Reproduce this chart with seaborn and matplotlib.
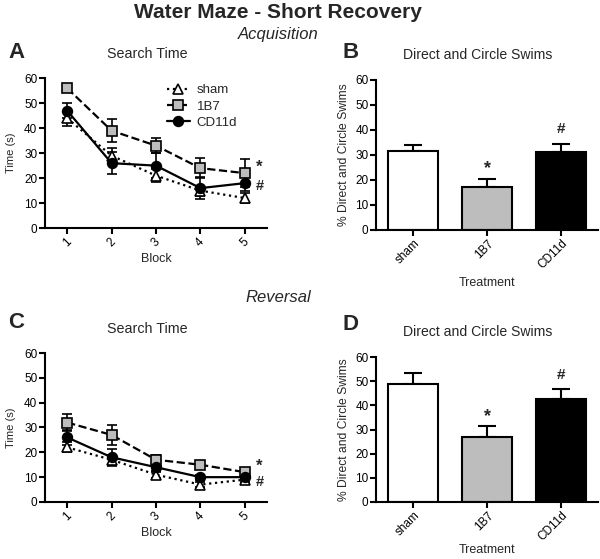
import matplotlib.pyplot as plt
import numpy as np
import pandas as pd
import seaborn as sns

groups = ["sham", "1B7", "CD11d"]
blocks = [1, 2, 3, 4, 5]

# Acquisition search time (mean, sem)
acq_time = {
    "sham": [44, 29, 21, 15, 12],
    "1B7": [56, 39, 33, 24, 22],
    "CD11d": [47, 26, 25, 16, 18],
}
acq_time_err = {
    "sham": [3, 3, 2.5, 2, 2],
    "1B7": [1.5, 4.5, 3, 4, 5.5],
    "CD11d": [3, 4.5, 5, 4.5, 3],
}
# Reversal search time (mean, sem)
rev_time = {
    "sham": [22, 17, 11, 7, 9],
    "1B7": [32, 27, 17, 15, 12],
    "CD11d": [26, 18, 14, 10, 10],
}
rev_time_err = {
    "sham": [2, 2, 1.5, 1, 1],
    "1B7": [3.3, 4.2, 2, 1.5, 1.5],
    "CD11d": [3, 3.5, 2, 1, 1],
}
# Direct and circle swims (%)
acq_swims = [31.5, 17, 31]
acq_swims_err = [2.5, 3.5, 3.3]
rev_swims = [49, 27, 42.5]
rev_swims_err = [4.5, 4.5, 4.2]

line_styles = {
    "sham": dict(ls=":", marker="^", mfc="white", ms=6.5),
    "1B7": dict(ls="--", marker="s", mfc="#bdbdbd", ms=6.5),
    "CD11d": dict(ls="-", marker="o", mfc="black", ms=7),
}
bar_colors = ["white", "#bdbdbd", "black"]

sns.set_theme(style="ticks")
plt.rcParams["font.family"] = ["Liberation Sans", "DejaVu Sans"]
plt.rcParams["axes.linewidth"] = 1.5
plt.rcParams["xtick.major.width"] = 1.5
plt.rcParams["ytick.major.width"] = 1.5
plt.rcParams["xtick.major.size"] = 4
plt.rcParams["ytick.major.size"] = 4

fig = plt.figure(figsize=(6, 5.59), dpi=100)


def style_axes(ax):
    sns.despine(ax=ax)
    ax.set_ylim(0, 60)
    ax.set_yticks(range(0, 61, 10))
    ax.tick_params(axis="both", labelsize=8.5, colors="black", pad=1.5)
    for s in ax.spines.values():
        s.set_color("black")


def time_panel(ax, means, errs, show_legend):
    for g in groups:
        df = pd.DataFrame({"Block": blocks, "Time": means[g]})
        st = line_styles[g]
        sns.lineplot(data=df, x="Block", y="Time", ax=ax, color="black",
                     linestyle=st["ls"], lw=1.6, marker=st["marker"],
                     markerfacecolor=st["mfc"], markeredgecolor="black",
                     markeredgewidth=1.2, markersize=st["ms"], label=g,
                     legend=False, zorder=3)
        ax.errorbar(blocks, means[g], yerr=errs[g], fmt="none", ecolor="black",
                    elinewidth=1.2, capsize=3.5, capthick=1.2, zorder=2)
    style_axes(ax)
    ax.set_xlim(0.5, 5.5)
    ax.set_xticks(blocks)
    ax.set_xticklabels([str(b) for b in blocks], rotation=45, ha="center")
    ax.set_xlabel("Block", fontsize=9, labelpad=3)
    ax.set_ylabel("Time (s)", fontsize=8, labelpad=6)
    star_y = means["1B7"][4] + 2.5
    hash_y = min(means["CD11d"][4] - 1, star_y - 6.5)
    ax.text(5.25, star_y, "*", fontsize=12, fontweight="bold",
            va="center", ha="left")
    ax.text(5.25, hash_y, "#", fontsize=10.5, fontweight="bold",
            va="center", ha="left")
    if show_legend:
        ax.legend(loc="upper right", bbox_to_anchor=(0.92, 1.04), frameon=False,
                  fontsize=9.5, handlelength=1.8, handletextpad=0.5,
                  labelspacing=0.3)


def swim_panel(ax, vals, errs, xpad):
    df = pd.DataFrame({"Treatment": groups, "Swims": vals})
    sns.barplot(data=df, x="Treatment", y="Swims", hue="Treatment",
                palette=bar_colors, edgecolor="black", linewidth=1.5,
                width=0.68, legend=False, ax=ax, zorder=2)
    ax.errorbar(range(3), vals, yerr=[[0] * 3, errs], fmt="none",
                ecolor="black", elinewidth=1.5, capsize=6.5, capthick=1.5,
                zorder=1)
    style_axes(ax)
    ax.set_xlim(-0.5, 2.5)
    ax.set_xticks(range(3))
    ax.set_xticklabels(groups, rotation=45, ha="right", rotation_mode="anchor")
    ax.set_xlabel("Treatment", fontsize=9, labelpad=xpad)
    ax.set_ylabel("% Direct and Circle Swims", fontsize=8.7, labelpad=4)
    ax.text(1, vals[1] + errs[1] + 4, "*", fontsize=13, fontweight="bold",
            ha="center", va="center")
    ax.text(2, vals[2] + errs[2] + 6, "#", fontsize=11, fontweight="bold",
            ha="center", va="center")


ax_a = fig.add_axes([0.075, 0.592, 0.37, 0.268])
ax_b = fig.add_axes([0.627, 0.589, 0.37, 0.268])
ax_c = fig.add_axes([0.075, 0.102, 0.37, 0.2665])
ax_d = fig.add_axes([0.627, 0.102, 0.37, 0.259])

time_panel(ax_a, acq_time, acq_time_err, True)
swim_panel(ax_b, acq_swims, acq_swims_err, 4)
time_panel(ax_c, rev_time, rev_time_err, False)
swim_panel(ax_d, rev_swims, rev_swims_err, 0.5)


def fy(px):
    return 1 - px / 559


fig.text(278 / 600, fy(12), "Water Maze - Short Recovery", fontsize=15,
         fontweight="bold", ha="center", va="center")
fig.text(278 / 600, fy(35), "Acquisition", fontsize=12, style="italic",
         ha="center", va="center")
fig.text(278 / 600, fy(297), "Reversal", fontsize=12, style="italic",
         ha="center", va="center")

fig.text(147 / 600, fy(54), "Search Time", fontsize=10.3, ha="center", va="center")
fig.text(478 / 600, fy(55), "Direct and Circle Swims", fontsize=10.1,
         ha="center", va="center")
fig.text(147 / 600, fy(329), "Search Time", fontsize=10.3, ha="center", va="center")
fig.text(478 / 600, fy(332), "Direct and Circle Swims", fontsize=10.1,
         ha="center", va="center")

for letter, x, y in [("A", 8, 53), ("B", 343, 53), ("C", 8, 323), ("D", 343, 325)]:
    fig.text(x / 600, fy(y), letter, fontsize=16, fontweight="bold",
             ha="left", va="center")

fig.savefig("out.png", dpi=100)
